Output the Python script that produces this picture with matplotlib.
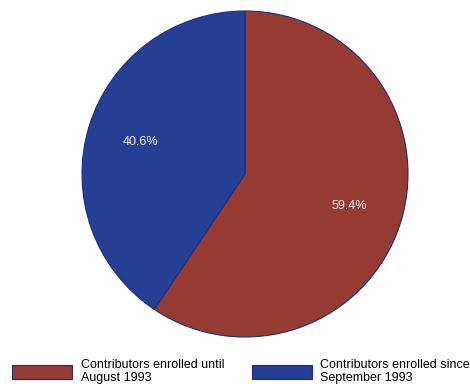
import matplotlib
matplotlib.use("Agg")
import matplotlib.pyplot as plt

plt.rcParams['font.family'] = ['Liberation Sans', 'DejaVu Sans']

labels = ['Contributors enrolled until\nAugust 1993', 'Contributors enrolled since\nSeptember 1993']
shares = [59.4, 40.6]
colors = ['#953B31', '#243F93']

fig = plt.figure(figsize=(4.70, 3.87), dpi=100)
ax = fig.add_axes([82 / 470, 50 / 387, 326 / 470, 326 / 387])

wedges, texts, autotexts = ax.pie(shares, colors=colors, startangle=90, counterclock=False,
                                  autopct='%.1f%%', pctdistance=0.667,
                                  wedgeprops=dict(edgecolor='#1E2C82', linewidth=0.8),
                                  textprops=dict(color='#F0F0F0', fontsize=9))

ax.set_xlim(-1, 1)
ax.set_ylim(-1, 1)
ax.set_aspect('equal')
ax.axis('off')

fig.legend(wedges, labels, loc='lower left', bbox_to_anchor=(4.5 / 470, -5 / 387), ncol=2,
           frameon=False, fontsize=9, handlelength=4.8, handleheight=1.28,
           handletextpad=0.72, columnspacing=2.16, labelspacing=0.2, borderpad=0.1)

fig.savefig('out.png', dpi=100)
